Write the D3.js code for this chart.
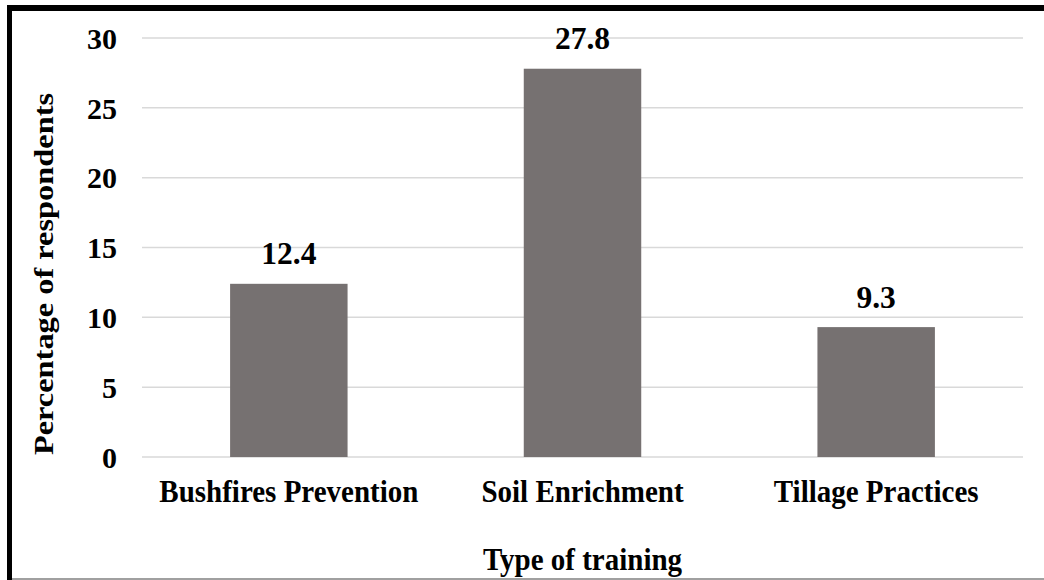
<!DOCTYPE html>
<html><head><meta charset="utf-8">
<script src="https://cdn.jsdelivr.net/npm/d3@7"></script>
<style>body{margin:0;background:#fff}svg{display:block}text{font-family:"Liberation Serif","Times New Roman",serif;font-weight:bold;fill:#000}</style>
</head><body>
<svg id="c" width="1044" height="580"></svg>
<script>
const categories = ["Bushfires Prevention", "Soil Enrichment", "Tillage Practices"];
const values = [12.4, 27.8, 9.3];
const yTicks = [0, 5, 10, 15, 20, 25, 30];
const yTitle = "Percentage of respondents";
const xTitle = "Type of training";

(function () {
const svg = d3.select("#c");
const pL = 142, pR = 1023, pT = 38, pB = 457;
const x = d3.scaleBand().domain(categories).range([pL, pR]).paddingInner(0.6).paddingOuter(0.3);
const y = d3.scaleLinear().domain([0, 30]).range([pB, pT]);

// gridlines
svg.append("g").selectAll("line").data(yTicks).join("line")
  .attr("x1", pL).attr("x2", pR)
  .attr("y1", d => y(d)).attr("y2", d => y(d))
  .attr("stroke", "#d9d9d9").attr("stroke-width", 1.5);

// y tick labels
const yAxis = d3.axisLeft(y).tickValues(yTicks).tickSize(0).tickPadding(0);
const ya = svg.append("g").attr("transform", "translate(117,0)").call(yAxis);
ya.select(".domain").remove();
ya.selectAll("text").attr("font-size", 30).attr("font-family", "Liberation Serif").attr("font-weight", "bold").attr("fill", "#000").attr("dy", "0.34em");

// bars
svg.append("g").selectAll("rect").data(values).join("rect")
  .attr("x", (d, i) => x(categories[i])).attr("width", x.bandwidth())
  .attr("y", d => y(d)).attr("height", d => y(0) - y(d))
  .attr("fill", "#767171");

// data labels
svg.append("g").selectAll("text").data(values).join("text")
  .attr("x", (d, i) => x(categories[i]) + x.bandwidth() / 2)
  .attr("y", d => y(d) - 19.5)
  .attr("text-anchor", "middle").attr("font-size", 31.5)
  .text(d => d.toFixed(1));

// x axis labels
const xAxis = d3.axisBottom(x).tickSize(0).tickPadding(0);
const xa = svg.append("g").attr("transform", "translate(0,502)").call(xAxis);
xa.select(".domain").remove();
xa.selectAll("text").attr("font-size", 29).attr("font-family", "Liberation Serif").attr("font-weight", "bold").attr("fill", "#000").attr("dy", 0).attr("y", 0)
  .attr("transform", "scale(1,1.08)");

// axis titles
svg.append("text").attr("transform", `translate(${(pL + pR) / 2},570) scale(1,1.08)`).attr("text-anchor", "middle").attr("font-size", 29).text(xTitle);
svg.append("text").attr("transform", "translate(53,274) rotate(-90) scale(1.2,1)").attr("text-anchor", "middle").attr("font-size", 27).text(yTitle);

// frame
svg.append("line").attr("x1", 12).attr("x2", 1044).attr("y1", 579).attr("y2", 579).attr("stroke", "#808080").attr("stroke-width", 1.5);
svg.append("line").attr("x1", 7).attr("x2", 1044).attr("y1", 8).attr("y2", 8).attr("stroke", "#000").attr("stroke-width", 6);
svg.append("line").attr("x1", 9.5).attr("x2", 9.5).attr("y1", 5).attr("y2", 580).attr("stroke", "#000").attr("stroke-width", 5);
})();
</script>
</body></html>
